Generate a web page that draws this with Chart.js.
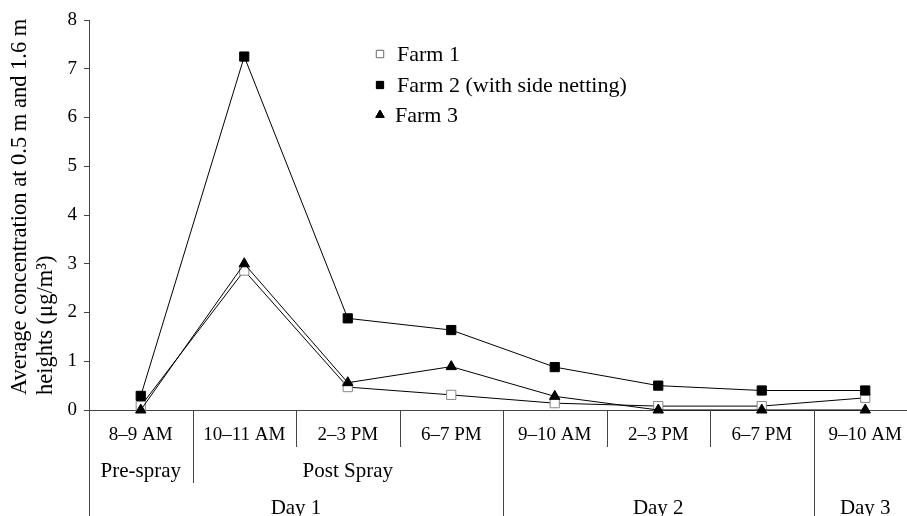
<!DOCTYPE html>
<html>
<head>
<meta charset="utf-8">
<script src="https://cdn.jsdelivr.net/npm/chart.js@4.4.1/dist/chart.umd.min.js"></script>
<style>
  html, body { margin: 0; padding: 0; background: #fff; overflow: hidden; }
  #wrap { position: relative; width: 907px; height: 516px; overflow: hidden; }
  canvas { display: block; }
</style>
</head>
<body>
<div id="wrap"><canvas id="chart" width="917" height="516"></canvas></div>
<script>
// sampling windows along the x axis
var timeLabels = ['8–9 AM', '10–11 AM', '2–3 PM', '6–7 PM', '9–10 AM', '2–3 PM', '6–7 PM', '9–10 AM'];
var phaseLabels = ['Pre-spray', 'Post Spray'];
var phaseSpans = [[0, 0], [1, 3]];
var dayLabels = ['Day 1', 'Day 2', 'Day 3'];
var daySpans = [[0, 3], [4, 6], [7, 7]];

var seriesNames = ['Farm 1', 'Farm 2 (with side netting)', 'Farm 3'];
var farm1 = [0.08, 2.86, 0.47, 0.31, 0.14, 0.08, 0.08, 0.25];
var farm2 = [0.29, 7.25, 1.88, 1.64, 0.88, 0.50, 0.40, 0.40];
var farm3 = [0.00, 3.00, 0.56, 0.89, 0.28, 0.00, 0.00, 0.00];

var yMin = 0, yMax = 8, yStep = 1;
var yTitle = ['Average concentration at 0.5 m and 1.6 m', 'heights (μg/m³)'];

var SERIF = '"Liberation Serif", "Times New Roman", serif';
var AXIS = '#444';

function lineAt(ctx, x1, y1, x2, y2) {
  ctx.beginPath();
  ctx.moveTo(x1, y1);
  ctx.lineTo(x2, y2);
  ctx.stroke();
}

// grouped category labels under the x axis (time / phase / day)
var groupedAxis = {
  id: 'groupedAxis',
  afterDraw: function (chart) {
    var ctx = chart.ctx, x = chart.scales.x, area = chart.chartArea;
    var half = (x.getPixelForValue(1) - x.getPixelForValue(0)) / 2;
    var bottom = chart.height;
    function center(a, b) { return (x.getPixelForValue(a) + x.getPixelForValue(b)) / 2; }
    function inSpans(spans, i) {
      for (var k = 0; k < spans.length; k++) if (spans[k][1] === i) return true;
      return false;
    }
    ctx.save();
    ctx.strokeStyle = AXIS;
    ctx.lineWidth = 1;
    // left edge runs all the way down
    var lx = Math.round(area.left) + 0.5;
    lineAt(ctx, lx, area.bottom, lx, bottom);
    for (var i = 0; i < timeLabels.length - 1; i++) {
      var sx = Math.round(x.getPixelForValue(i) + half) + 0.5;
      var end = area.bottom + 37;
      if (inSpans(daySpans, i)) end = bottom;
      else if (i < 1 && inSpans(phaseSpans, i)) end = area.bottom + 73;
      lineAt(ctx, sx, area.bottom, sx, end);
    }
    ctx.fillStyle = '#000';
    ctx.textAlign = 'center';
    ctx.textBaseline = 'alphabetic';
    ctx.font = '19px ' + SERIF;
    timeLabels.forEach(function (t, i) { ctx.fillText(t, x.getPixelForValue(i), area.bottom + 30); });
    ctx.font = '21px ' + SERIF;
    phaseLabels.forEach(function (t, i) { ctx.fillText(t, center(phaseSpans[i][0], phaseSpans[i][1]), area.bottom + 67); });
    dayLabels.forEach(function (t, i) { ctx.fillText(t, center(daySpans[i][0], daySpans[i][1]), area.bottom + 104); });
    ctx.restore();
  }
};

// two-line rotated y title, both lines starting near the bottom of the axis
var yTitlePlugin = {
  id: 'yTitlePlugin',
  afterDraw: function (chart) {
    var ctx = chart.ctx, area = chart.chartArea;
    ctx.save();
    ctx.fillStyle = '#000';
    ctx.font = '22.5px ' + SERIF;
    ctx.textAlign = 'left';
    ctx.textBaseline = 'alphabetic';
    yTitle.forEach(function (t, i) {
      ctx.save();
      ctx.translate(26 + i * 26, area.bottom - 15);
      ctx.rotate(-Math.PI / 2);
      ctx.fillText(t, 0, 0);
      ctx.restore();
    });
    ctx.restore();
  }
};

// small legend inside the plot area
var insideLegend = {
  id: 'insideLegend',
  afterDraw: function (chart) {
    var ctx = chart.ctx;
    var rows = [54, 85, 115];
    ctx.save();
    ctx.font = '22px ' + SERIF;
    ctx.textBaseline = 'middle';
    ctx.textAlign = 'left';
    chart.data.datasets.forEach(function (ds, i) {
      var px = 380, py = rows[i];
      Chart.helpers.drawPoint(ctx, {
        pointStyle: ds.pointStyle,
        radius: ds.pointStyle === 'triangle' ? 4.8 : 5.1,
        borderWidth: 1
      }, px, py);
      ctx.fillStyle = ds.pointBackgroundColor;
      ctx.strokeStyle = ds.pointBorderColor;
      ctx.lineWidth = 1;
      ctx.fill();
      ctx.stroke();
      ctx.fillStyle = '#000';
      ctx.fillText(ds.label, ds.pointStyle === 'triangle' ? 395 : 397, py + 1);
    });
    ctx.restore();
  }
};

new Chart(document.getElementById('chart').getContext('2d'), {
  type: 'line',
  data: {
    labels: timeLabels,
    datasets: [{
      label: seriesNames[0],
      data: farm1,
      borderColor: '#000',
      borderWidth: 1,
      pointStyle: 'rect',
      pointRadius: 6.5,
      pointBackgroundColor: '#fff',
      pointBorderColor: '#888',
      pointBorderWidth: 1,
      tension: 0,
      clip: false,
      order: 3
    }, {
      label: seriesNames[1],
      data: farm2,
      borderColor: '#000',
      borderWidth: 1,
      pointStyle: 'rect',
      pointRadius: 6.5,
      pointBackgroundColor: '#000',
      pointBorderColor: '#000',
      pointBorderWidth: 1,
      tension: 0,
      clip: false,
      order: 2
    }, {
      label: seriesNames[2],
      data: farm3,
      borderColor: '#000',
      borderWidth: 1,
      pointStyle: 'triangle',
      pointRadius: 6,
      pointBackgroundColor: '#000',
      pointBorderColor: '#000',
      pointBorderWidth: 1,
      tension: 0,
      clip: false,
      order: 1
    }]
  },
  options: {
    responsive: false,
    animation: false,
    events: [],
    layout: { autoPadding: false, padding: { top: 20, left: 0, right: 0, bottom: 0 } },
    plugins: { legend: { display: false }, tooltip: { enabled: false } },
    scales: {
      x: {
        type: 'category',
        offset: true,
        grid: { display: false },
        ticks: { display: false },
        border: { display: true, color: AXIS, width: 1 },
        afterFit: function (scale) { scale.height = 106; }
      },
      y: {
        min: yMin,
        max: yMax,
        ticks: { stepSize: yStep, color: '#000', padding: 7, font: { family: SERIF, size: 19 } },
        grid: { drawOnChartArea: false, tickLength: 5, color: AXIS },
        border: { display: true, color: AXIS, width: 1 },
        afterFit: function (scale) { scale.width = 89; }
      }
    }
  },
  plugins: [groupedAxis, yTitlePlugin, insideLegend]
});
</script>
</body>
</html>
